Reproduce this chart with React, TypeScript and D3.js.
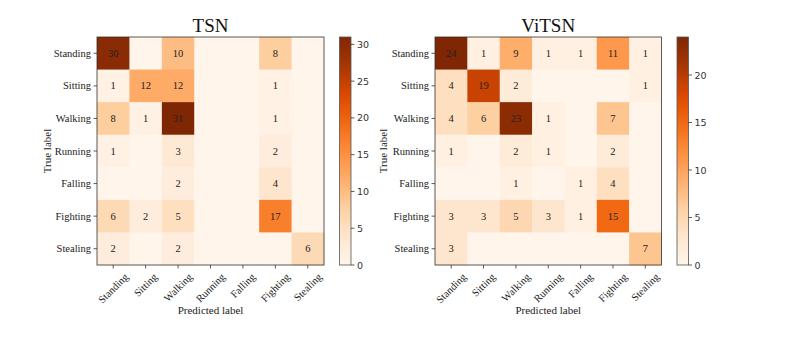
import React from 'react';
import * as d3 from 'd3';

const classes = ['Standing', 'Sitting', 'Walking', 'Running', 'Falling', 'Fighting', 'Stealing'];

const tsnValues = [
  [30, 0, 10, 0, 0, 8, 0],
  [1, 12, 12, 0, 0, 1, 0],
  [8, 1, 31, 0, 0, 1, 0],
  [1, 0, 3, 0, 0, 2, 0],
  [0, 0, 2, 0, 0, 4, 0],
  [6, 2, 5, 0, 0, 17, 0],
  [2, 0, 2, 0, 0, 0, 6],
];

const vitsnValues = [
  [24, 1, 9, 1, 1, 11, 1],
  [4, 19, 2, 0, 0, 0, 1],
  [4, 6, 23, 1, 0, 7, 0],
  [1, 0, 2, 1, 0, 2, 0],
  [0, 0, 1, 0, 1, 4, 0],
  [3, 3, 5, 3, 1, 15, 0],
  [3, 0, 0, 0, 0, 0, 7],
];

const tsnTicks = [0, 5, 10, 15, 20, 25, 30];
const vitsnTicks = [0, 5, 10, 15, 20];

const serif = "'Liberation Serif', 'Times New Roman', serif";
const sans = "'DejaVu Sans', sans-serif";
const oranges = d3.piecewise(d3.interpolateRgb, d3.schemeOranges[9]);

// rough text width for the rotated labels
let ctx: CanvasRenderingContext2D | null = null;
const textWidth = (s: string, font: string) => {
  if (!ctx) ctx = document.createElement('canvas').getContext('2d');
  if (!ctx) return s.length * 5;
  ctx.font = font;
  return ctx.measureText(s).width;
};

type PanelProps = {
  title: string;
  values: number[][];
  ticks: number[];
  left: number;
  right: number;
  cbX: number;
  yLabelX: number;
};

const top = 37;
const bottom = 265;

const Panel = ({ title, values, ticks, left, right, cbX, yLabelX }: PanelProps) => {
  const vmax = d3.max(values.flat()) as number;
  const x = d3.scaleBand().domain(classes).range([left, right]);
  const y = d3.scaleBand().domain(classes).range([top, bottom]);
  const color = d3.scaleSequential(oranges).domain([0, vmax]);
  const cbY = d3.scaleLinear().domain([0, vmax]).range([bottom, top]);
  const cbW = 11.5;
  const gradId = `grad-${title}`;
  const cx = (left + right) / 2;

  return (
    <g>
      <defs>
        <linearGradient id={gradId} x1="0" y1="1" x2="0" y2="0">
          {d3.range(0, 1.0001, 0.05).map((t) => (
            <stop key={t} offset={t} stopColor={oranges(t)} />
          ))}
        </linearGradient>
      </defs>
      <text x={cx} y={32} textAnchor="middle" fontFamily={serif} fontSize={19} fill="#111">
        {title}
      </text>
      {values.map((row, i) =>
        row.map((v, j) => (
          <g key={`${i}-${j}`}>
            <rect
              x={x(classes[j])}
              y={y(classes[i])}
              width={x.bandwidth() + 0.5}
              height={y.bandwidth() + 0.5}
              fill={color(v)}
            />
            {v > 0 && (
              <text
                x={(x(classes[j]) as number) + x.bandwidth() / 2}
                y={(y(classes[i]) as number) + y.bandwidth() / 2}
                textAnchor="middle"
                dominantBaseline="central"
                fontFamily={serif}
                fontSize={10.5}
                fill="#222"
              >
                {v}
              </text>
            )}
          </g>
        ))
      )}
      <rect x={left} y={top} width={right - left} height={bottom - top} fill="none" stroke="#333" strokeWidth={0.8} />
      {classes.map((c) => {
        const yy = (y(c) as number) + y.bandwidth() / 2;
        return (
          <g key={`y-${c}`}>
            <line x1={left - 3.5} x2={left} y1={yy} y2={yy} stroke="#333" strokeWidth={0.8} />
            <text x={left - 6} y={yy} textAnchor="end" dominantBaseline="central" fontFamily={serif} fontSize={10.5} fill="#222">
              {c}
            </text>
          </g>
        );
      })}
      {classes.map((c) => {
        const xx = (x(c) as number) + x.bandwidth() / 2;
        const w = textWidth(c, `10.5px ${serif}`);
        const half = ((w + 10) * Math.SQRT1_2) / 2;
        const ty = bottom + 6.5 + half;
        return (
          <g key={`x-${c}`}>
            <line x1={xx} x2={xx} y1={bottom} y2={bottom + 3.5} stroke="#333" strokeWidth={0.8} />
            <text
              x={xx}
              y={ty}
              textAnchor="middle"
              dominantBaseline="central"
              fontFamily={serif}
              fontSize={10.5}
              fill="#222"
              transform={`rotate(-45, ${xx}, ${ty})`}
            >
              {c}
            </text>
          </g>
        );
      })}
      <text x={cx} y={310} textAnchor="middle" dominantBaseline="central" fontFamily={serif} fontSize={11} fill="#222">
        Predicted label
      </text>
      <text
        x={yLabelX}
        y={151}
        textAnchor="middle"
        dominantBaseline="central"
        fontFamily={serif}
        fontSize={11}
        fill="#222"
        transform={`rotate(-90, ${yLabelX}, 151)`}
      >
        True label
      </text>
      <rect x={cbX} y={top} width={cbW} height={bottom - top} fill={`url(#${gradId})`} stroke="#555" strokeWidth={0.8} />
      {ticks.map((t) => (
        <g key={`cb-${t}`}>
          <line x1={cbX + cbW} x2={cbX + cbW + 3.5} y1={cbY(t)} y2={cbY(t)} stroke="#333" strokeWidth={0.8} />
          <text x={cbX + cbW + 6} y={cbY(t)} dominantBaseline="central" fontFamily={sans} fontSize={9.5} fill="#333">
            {t}
          </text>
        </g>
      ))}
    </g>
  );
};

export default function App() {
  return (
    <svg width={799} height={338} style={{ position: 'absolute', left: 0, top: 0, background: '#fff' }}>
      <Panel title="TSN" values={tsnValues} ticks={tsnTicks} left={97} right={324} cbX={339.5} yLabelX={47} />
      <Panel title="ViTSN" values={vitsnValues} ticks={vitsnTicks} left={435} right={661.5} cbX={677} yLabelX={383} />
    </svg>
  );
}
